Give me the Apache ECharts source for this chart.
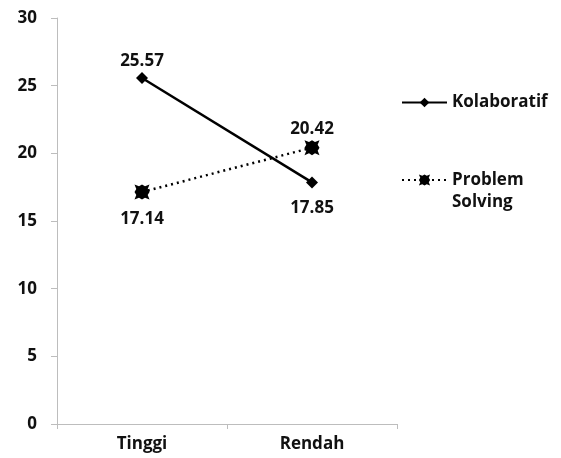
<!DOCTYPE html>
<html><head><meta charset="utf-8">
<script src="https://cdn.jsdelivr.net/npm/echarts@6/dist/echarts.min.js"></script>
<style>html,body{margin:0;padding:0;background:#fff}#c{width:561px;height:458px}</style>
</head><body><div id="c"></div>
<script>
const categories = ['Tinggi', 'Rendah'];
const kolaboratif = [25.57, 17.85];
const problemSolving = [17.14, 20.42];
const yTicks = [0, 5, 10, 15, 20, 25, 30];

const FONT = '"Open Sans", "Liberation Sans", sans-serif';
const starPath = 'path://M0,0 L3,1.2 L5,0 L7,1.2 L10,0 L8.8,3 L10,5 L8.8,7 L10,10 L7,8.8 L5,10 L3,8.8 L0,10 L1.2,7 L0,5 L1.2,3 Z';
const FS = 17;

const chart = echarts.init(document.getElementById('c'));
const lbl = (pos) => ({ show: true, position: pos, distance: pos === 'top' ? 2 : 11,
  fontFamily: FONT, fontWeight: 'bold', fontSize: FS, color: '#111',
  formatter: p => p.value.toFixed(2) });
chart.setOption({
  animation: false,
  grid: { left: 57, right: 164, top: 18, bottom: 34 },
  legend: [
    { data: ['Kolaboratif'], orient: 'vertical', left: 396, top: 89, itemWidth: 45, itemHeight: 12, itemGap: 5,
      textStyle: { fontFamily: FONT, fontWeight: 'bold', fontSize: FS, color: '#111' } },
    { data: ['Problem Solving'], orient: 'vertical', left: 396, top: 142, itemWidth: 45, itemHeight: 14,
      formatter: n => ' \n' + n.replace(' ', '\n'),
      textStyle: { fontFamily: FONT, fontWeight: 'bold', fontSize: FS, color: '#111', lineHeight: 22 } }
  ],
  xAxis: {
    type: 'category', data: categories, boundaryGap: true,
    axisLine: { lineStyle: { color: '#bdbdbd', width: 1 } },
    axisTick: { show: true, length: 5, lineStyle: { color: '#bdbdbd' } },
    axisLabel: { fontFamily: FONT, fontWeight: 'bold', fontSize: FS, color: '#111', margin: 12 },
    splitLine: { show: false }
  },
  yAxis: {
    type: 'value', min: yTicks[0], max: yTicks[yTicks.length - 1], interval: 5,
    axisLine: { show: true, lineStyle: { color: '#bdbdbd', width: 1 } },
    axisTick: { show: true, length: 6, lineStyle: { color: '#bdbdbd' } },
    axisLabel: { fontFamily: FONT, fontWeight: 'bold', fontSize: FS, color: '#111', margin: 20 },
    splitLine: { show: false }
  },
  series: [
    { name: 'Kolaboratif', type: 'line',
      data: kolaboratif.map((v, i) => ({ value: v, label: lbl(i === 0 ? 'top' : 'bottom') })),
      symbol: 'diamond', symbolSize: 12,
      itemStyle: { color: '#000' }, lineStyle: { color: '#000', width: 2.5 } },
    { name: 'Problem Solving', type: 'line',
      data: problemSolving.map((v, i) => ({ value: v, label: lbl(i === 0 ? 'bottom' : 'top') })),
      symbol: starPath, symbolSize: 15,
      itemStyle: { color: '#000' }, lineStyle: { color: '#000', width: 2.5, type: [2, 4] } }
  ]
});
</script></body></html>
